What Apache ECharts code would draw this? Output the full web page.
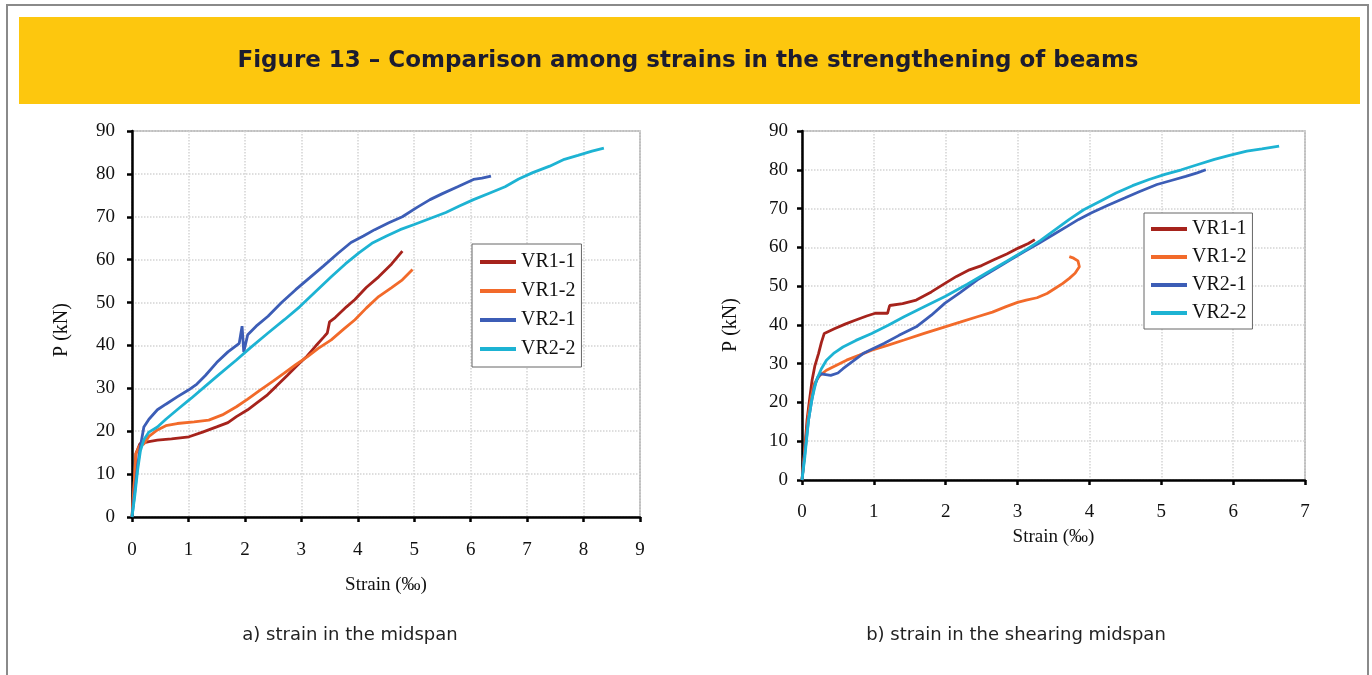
<!DOCTYPE html>
<html>
<head>
<meta charset="utf-8">
<script src="https://cdn.jsdelivr.net/npm/echarts@6/dist/echarts.min.js"></script>
<style>
html,body{margin:0;padding:0;background:#fff;}
#chart{width:1372px;height:675px;}
</style>
</head>
<body>
<div id="chart"></div>
<script>
// ---------- Data (strain ‰, load kN) ----------
const seriesNames = ['VR1-1', 'VR1-2', 'VR2-1', 'VR2-2'];

// a) strain in the midspan
const mid_VR1_1 = [[0,0],[0.04,8],[0.07,14.8],[0.14,17.1],[0.3,17.6],[0.45,17.9],[0.7,18.2],[1.01,18.7],[1.25,19.8],[1.5,21],[1.7,22],[1.85,23.4],[2.05,25],[2.2,26.5],[2.4,28.5],[2.55,30.4],[2.75,33],[2.97,35.9],[3.1,37.5],[3.25,39.8],[3.4,42],[3.46,42.9],[3.5,45.5],[3.6,46.5],[3.8,49],[3.95,50.7],[4.15,53.5],[4.37,56],[4.6,59],[4.79,62]];
const mid_VR1_2 = [[0,0],[0.04,8],[0.07,14.8],[0.13,16.5],[0.21,17],[0.3,18.8],[0.45,20.3],[0.6,21.3],[0.8,21.8],[1.1,22.2],[1.36,22.6],[1.6,23.8],[1.85,25.7],[2.05,27.5],[2.27,29.6],[2.5,31.7],[2.69,33.5],[2.9,35.5],[3.11,37.4],[3.3,39.3],[3.53,41.3],[3.75,43.8],[3.95,46],[4.15,48.7],[4.37,51.4],[4.6,53.5],[4.79,55.3],[4.97,57.7]];
const mid_VR2_1 = [[0,0],[0.05,6],[0.1,12],[0.15,16.5],[0.21,21],[0.3,22.8],[0.45,25],[0.6,26.3],[0.8,28],[1.0,29.6],[1.15,31],[1.3,33],[1.5,36],[1.7,38.5],[1.9,40.5],[1.95,44.5],[1.98,38.5],[2.05,42.5],[2.2,44.5],[2.41,46.8],[2.65,50],[2.9,53],[3.15,55.8],[3.39,58.5],[3.65,61.5],[3.88,64],[4.1,65.5],[4.3,67],[4.55,68.6],[4.79,70],[5.05,72.2],[5.28,74],[5.5,75.4],[5.77,77],[6.05,78.7],[6.2,79],[6.36,79.5]];
const mid_VR2_2 = [[0,0],[0.05,5],[0.1,11],[0.15,15.5],[0.21,18],[0.3,19.8],[0.45,21],[0.6,22.8],[0.8,25],[1.05,27.7],[1.29,30.4],[1.55,33.3],[1.85,36.6],[2.1,39.5],[2.41,42.9],[2.7,46],[2.97,49],[3.25,52.5],[3.53,56],[3.78,59],[4.02,61.6],[4.25,63.8],[4.51,65.5],[4.75,67],[5.0,68.2],[5.28,69.6],[5.56,71],[5.8,72.5],[6.05,74],[6.33,75.5],[6.61,77],[6.85,78.8],[7.1,80.3],[7.4,81.8],[7.66,83.4],[7.9,84.3],[8.15,85.3],[8.36,86]];

// b) strain in the shearing midspan
const sh_VR1_1 = [[0,0],[0.03,6],[0.07,15.4],[0.1,20],[0.14,25.7],[0.18,29.5],[0.23,32.6],[0.27,35.5],[0.31,37.8],[0.45,39],[0.6,40.2],[0.74,41.2],[0.9,42.3],[1.02,43],[1.19,43],[1.22,45],[1.4,45.5],[1.59,46.4],[1.8,48.5],[1.99,50.7],[2.15,52.5],[2.33,54.2],[2.5,55.3],[2.67,56.8],[2.85,58.3],[3.01,59.8],[3.15,61],[3.24,62]];
const sh_VR1_2 = [[0,0],[0.04,8],[0.09,17],[0.13,21.5],[0.17,24.8],[0.25,27],[0.34,28.3],[0.48,29.6],[0.62,30.9],[0.8,32.2],[0.97,33.5],[1.2,34.8],[1.42,36.1],[1.7,37.8],[1.99,39.5],[2.2,40.7],[2.44,42.1],[2.65,43.3],[2.84,44.7],[3.0,45.8],[3.12,46.4],[3.27,47],[3.41,48.1],[3.53,49.5],[3.63,50.7],[3.72,52],[3.8,53.3],[3.86,55],[3.84,56.5],[3.78,57.2],[3.72,57.6]];
const sh_VR2_1 = [[0,0],[0.04,7],[0.09,15.4],[0.13,20],[0.17,24],[0.22,26.5],[0.26,27.4],[0.33,27.2],[0.4,27],[0.5,27.6],[0.57,28.7],[0.7,30.5],[0.85,32.6],[1.0,34],[1.14,35.2],[1.35,37.3],[1.59,39.5],[1.8,42.5],[1.99,45.6],[2.2,48.3],[2.44,51.6],[2.67,54.2],[2.9,56.8],[3.1,59],[3.29,61],[3.5,63.3],[3.69,65.4],[3.85,67.2],[4.03,68.9],[4.25,70.8],[4.49,72.7],[4.7,74.4],[4.94,76.2],[5.15,77.3],[5.34,78.3],[5.5,79.2],[5.62,80]];
const sh_VR2_2 = [[0,0],[0.04,6],[0.09,15.4],[0.14,21],[0.2,25.7],[0.27,28.7],[0.34,30.9],[0.45,32.8],[0.57,34.3],[0.75,36],[0.97,37.8],[1.2,39.9],[1.42,42.1],[1.7,44.7],[1.99,47.3],[2.3,50.5],[2.56,53.3],[2.85,56.4],[3.12,59.4],[3.32,61.8],[3.52,64.5],[3.72,67.2],[3.92,69.7],[4.15,71.9],[4.37,74],[4.6,75.9],[4.83,77.5],[5.05,78.8],[5.28,80],[5.5,81.3],[5.74,82.7],[5.95,83.7],[6.19,84.8],[6.4,85.4],[6.64,86.1]];

const titleText = 'Figure 13 – Comparison among strains in the strengthening of beams';
const subTitleA = 'a) strain in the midspan';
const subTitleB = 'b) strain in the shearing midspan';
const xAxisName = 'Strain (‰)';
const yAxisName = 'P (kN)';

// ---------- Styling ----------
const colors = ['#A6231C', '#F26A2A', '#3C5DB6', '#1DB3D3'];
const serif = '"Liberation Serif", "Times New Roman", serif';
const sans = '"DejaVu Sans", sans-serif';

function xAxisCfg(gridIndex, max, gap, lblMargin) {
  return {
    type: 'value', gridIndex: gridIndex, min: 0, max: max, interval: 1,
    name: xAxisName, nameLocation: 'middle', nameGap: gap,
    nameTextStyle: {fontFamily: serif, fontSize: 19, color: '#111'},
    axisLine: {show: true, lineStyle: {color: '#000', width: 2.5}},
    axisTick: {show: true, inside: false, length: 5, lineStyle: {color: '#000', width: 2.5}},
    axisLabel: {fontFamily: serif, fontSize: 19, color: '#111', margin: lblMargin},
    splitLine: {show: true, lineStyle: {color: '#d4d4d4', type: 'dotted', width: 1.5}}
  };
}
function yAxisCfg(gridIndex, lblMargin) {
  return {
    type: 'value', gridIndex: gridIndex, min: 0, max: 90, interval: 10,
    axisLine: {show: true, onZero: false, lineStyle: {color: '#000', width: 2.5}},
    axisTick: {show: true, inside: false, length: 5, lineStyle: {color: '#000', width: 2.5}},
    axisLabel: {fontFamily: serif, fontSize: 19, color: '#111', margin: lblMargin},
    splitLine: {show: true, lineStyle: {color: '#d4d4d4', type: 'dotted', width: 1.5}}
  };
}

const midData = [mid_VR1_1, mid_VR1_2, mid_VR2_1, mid_VR2_2];
const shData = [sh_VR1_1, sh_VR1_2, sh_VR2_1, sh_VR2_2];
const series = [];
seriesNames.forEach((n, i) => {
  series.push({name: n, type: 'line', xAxisIndex: 0, yAxisIndex: 0, data: midData[i],
    showSymbol: false, symbol: 'none', smooth: false, z: 3 + i,
    lineStyle: {color: colors[i], width: 2.8}, itemStyle: {color: colors[i]}});
});
seriesNames.forEach((n, i) => {
  series.push({name: n, type: 'line', xAxisIndex: 1, yAxisIndex: 1, data: shData[i],
    showSymbol: false, symbol: 'none', smooth: false, z: 3 + i,
    lineStyle: {color: colors[i], width: 2.8}, itemStyle: {color: colors[i]}});
});

function legendCfg(left, top, gap, pad) {
  return {
    left: left, top: top, orient: 'vertical',
    data: seriesNames.map(n => ({name: n, icon: 'rect'})),
    itemWidth: 36, itemHeight: 4, itemGap: gap,
    padding: pad,
    borderColor: '#666', borderWidth: 1, backgroundColor: '#fff',
    textStyle: {fontFamily: serif, fontSize: 20, color: '#111'},
    selectedMode: false
  };
}

const option = {
  animation: false,
  backgroundColor: '#fff',
  grid: [
    {left: 132, right: 1372 - 640, top: 131, bottom: 675 - 517, show: true, borderColor: '#aaa', borderWidth: 1.5, backgroundColor: 'transparent'},
    {left: 802, right: 1372 - 1305, top: 131, bottom: 675 - 480, show: true, borderColor: '#aaa', borderWidth: 1.5, backgroundColor: 'transparent'}
  ],
  xAxis: [xAxisCfg(0, 9, 59, 24), xAxisCfg(1, 7, 48, 23)],
  yAxis: [yAxisCfg(0, 17), yAxisCfg(1, 14)],
  legend: [legendCfg(472, 244, 9, [8, 6, 8, 8]), legendCfg(1144, 213, 8, [6, 6, 6, 7])],
  series: series,
  graphic: [
    {type: 'rect', z: -10, shape: {x: 7, y: 5, width: 1361, height: 690},
      style: {fill: 'none', stroke: '#8a8a8a', lineWidth: 2}},
    {type: 'rect', z: -5, shape: {x: 19, y: 17, width: 1341, height: 87},
      style: {fill: '#FDC70E'}},
    {type: 'text', x: 688, y: 61, style: {text: titleText, fill: '#1c1c30',
      font: 'bold 23px ' + sans, textAlign: 'center', textVerticalAlign: 'middle'}},
    {type: 'text', x: 350, y: 635, style: {text: subTitleA, fill: '#222',
      font: '18px ' + sans, textAlign: 'center', textVerticalAlign: 'middle'}},
    {type: 'text', x: 1016, y: 635, style: {text: subTitleB, fill: '#222',
      font: '18px ' + sans, textAlign: 'center', textVerticalAlign: 'middle'}},
    {type: 'text', x: 62, y: 330, rotation: Math.PI / 2, style: {text: yAxisName, fill: '#111',
      font: '20px ' + serif, textAlign: 'center', textVerticalAlign: 'middle'}},
    {type: 'text', x: 731, y: 325, rotation: Math.PI / 2, style: {text: yAxisName, fill: '#111',
      font: '20px ' + serif, textAlign: 'center', textVerticalAlign: 'middle'}}
  ]
};

const chart = echarts.init(document.getElementById('chart'), null, {renderer: 'canvas'});
chart.setOption(option);
</script>
</body>
</html>
